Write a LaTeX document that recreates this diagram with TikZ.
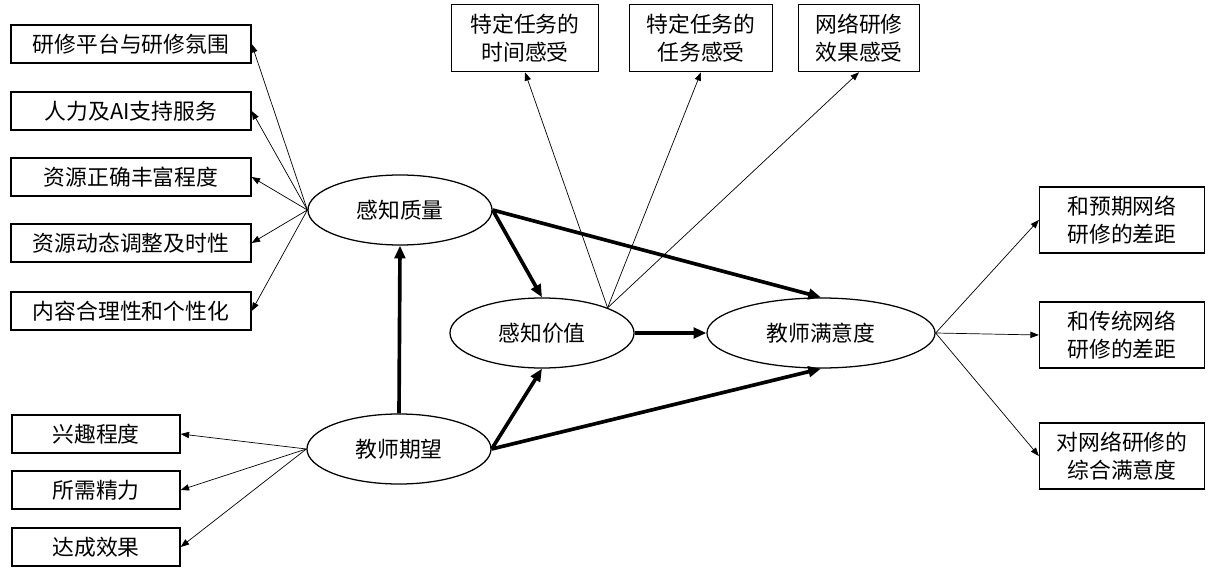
\documentclass[tikz,border=0pt]{standalone}
\usepackage{fontspec}
\newfontfamily\cjk{Noto Sans CJK SC}
\usetikzlibrary{shapes.geometric,arrows.meta}

\begin{document}
\begin{tikzpicture}[x=0.025cm, y=-0.025cm,
		every node/.style={font=\cjk\fontsize{15.5}{20}\selectfont},
		caja/.style={draw=black, line width=0.9pt, minimum height=0.95cm, inner sep=2pt},
		caja2/.style={caja, align=center, minimum height=1.68cm, inner xsep=0.42cm},
		elipse/.style={ellipse, draw=black, line width=0.9pt, minimum width=4.6cm, minimum height=1.75cm, inner sep=0pt},
		flecha/.style={draw=black, line width=0.5pt, -{Triangle[length=6pt, width=4.5pt]}},
		fuerte/.style={draw=black, line width=2.6pt, -{Triangle[length=9pt, width=7.5pt]}}]
	\useasboundingbox (0,0) rectangle (1209,570);
	% variables latentes
	\node[elipse] (pq) at (400,210) {感知质量};
	\node[elipse] (pv) at (542,333) {感知价值};
	\node[elipse, minimum width=5.7cm] (ts) at (821,333) {教师满意度};
	\node[elipse] (te) at (399,449) {教师期望};
	% indicadores de calidad
	\node[caja, minimum width=6cm] (q1) at (131,44)  {研修平台与研修氛围};
	\node[caja, minimum width=6cm] (q2) at (131,111) {人力及AI支持服务};
	\node[caja, minimum width=6cm] (q3) at (131,177) {资源正确丰富程度};
	\node[caja, minimum width=6cm] (q4) at (131,243) {资源动态调整及时性};
	\node[caja, minimum width=6cm] (q5) at (131,311) {内容合理性和个性化};
	% indicadores de valor
	\node[caja2, minimum width=3.68cm] (v1) at (525,38) {特定任务的\\时间感受};
	\node[caja2] (v2) at (701,38) {特定任务的\\任务感受};
	\node[caja2] (v3) at (859,38) {网络研修\\效果感受};
	% indicadores de satisfaccion
	\node[caja2, minimum width=4.125cm, minimum height=1.65cm] (s1) at (1122,220) {和预期网络\\研修的差距};
	\node[caja2, minimum width=4.125cm, minimum height=1.65cm] (s2) at (1122,335) {和传统网络\\研修的差距};
	\node[caja2, minimum width=4.125cm, minimum height=1.65cm] (s3) at (1122,456) {对网络研修的\\综合满意度};
	% indicadores de expectativa
	\node[caja, minimum width=4.2cm] (e1) at (96,434) {兴趣程度};
	\node[caja, minimum width=4.2cm] (e2) at (96,490) {所需精力};
	\node[caja, minimum width=4.2cm] (e3) at (96,547) {达成效果};
	% relaciones estructurales
	\draw[fuerte] (te.north) -- (pq.south);
	\draw[fuerte] (pq.east) -- (pv.north);
	\draw[fuerte] (pq.east) -- (ts.north);
	\draw[fuerte] (pv.east) -- (ts.west);
	\draw[fuerte] (te.east) -- (pv.south);
	\draw[fuerte] (te.east) -- (ts.south);
	% cargas
	\draw[flecha] (pq.west) -- (q1.east);
	\draw[flecha] (pq.west) -- (q2.east);
	\draw[flecha] (pq.west) -- (q3.east);
	\draw[flecha] (pq.west) -- (q4.east);
	\draw[flecha] (pq.west) -- (q5.east);
	\draw[flecha] (pv.21) -- (v1.south);
	\draw[flecha] (pv.21) -- (v2.south);
	\draw[flecha] (pv.21) -- (v3.south);
	\draw[flecha] (ts.east) -- (s1.west);
	\draw[flecha] (ts.east) -- (s2.west);
	\draw[flecha] (ts.east) -- (s3.west);
	\draw[flecha] (te.west) -- (e1.east);
	\draw[flecha] (te.west) -- (e2.east);
	\draw[flecha] (te.west) -- (e3.east);
\end{tikzpicture}
\end{document}
